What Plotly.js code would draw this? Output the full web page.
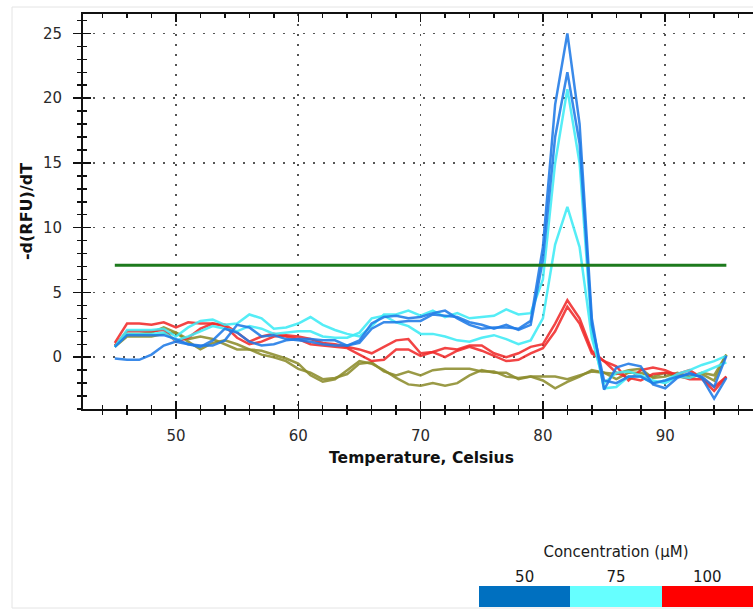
<!DOCTYPE html>
<html>
<head>
<meta charset="utf-8">
<script src="https://cdn.plot.ly/plotly-3.0.1.min.js"></script>
<style>
  html, body { margin: 0; padding: 0; background: #ffffff; overflow: hidden; width: 753px; height: 610px; }
  #chart { width: 770px; height: 610px; }
</style>
</head>
<body>
<div id="chart"></div>
<script>
// Temperature grid (Celsius)
const temperature = [45,46,47,48,49,50,51,52,53,54,55,56,57,58,59,60,
  61,62,63,64,65,66,67,68,69,70,71,72,73,74,75,76,77,78,79,80,
  81,82,83,84,85,86,87,88,89,90,91,92,93,94,95];

// -d(RFU)/dT melt-curve series
const blue50a = [-0.1,-0.2,-0.2,0.2,0.9,1.2,1.0,0.8,1.3,2.2,1.9,1.2,0.9,1.0,1.3,1.4,
  1.4,1.3,1.3,0.9,1.3,2.6,3.1,3.2,3.0,3.1,
  3.4,3.6,3.0,2.5,2.2,2.3,2.3,2.2,2.8,8.5,
  19.5,25.0,18.0,3.0,-2.5,-0.8,-0.5,-0.7,-2.1,-2.4,
  -1.6,-1.2,-1.6,-3.2,-1.6];
const blue50b = [0.8,1.7,1.7,1.7,1.7,1.4,1.0,0.9,0.9,1.3,2.5,2.3,1.6,1.7,1.4,1.3,
  1.2,1.0,0.9,0.9,1.1,2.2,2.7,2.7,2.8,2.8,
  3.3,3.2,3.1,2.7,2.5,2.2,2.5,2.1,2.5,7.5,
  17.0,22.0,16.5,2.5,-1.8,-2.0,-1.5,-1.5,-2.0,-1.8,
  -1.5,-1.3,-1.5,-2.3,0.1];
const cyan75a = [0.8,2.1,2.1,2.1,2.2,1.6,2.3,2.8,2.9,2.5,2.6,3.3,3.0,2.2,2.3,2.6,
  3.1,2.5,2.1,1.8,1.6,2.4,3.3,3.3,3.6,3.2,
  3.6,3.1,3.4,3.0,3.1,3.2,3.7,3.3,3.4,6.0,
  15.0,20.7,15.0,2.0,-2.4,-2.3,-1.5,-1.5,-2.0,-1.8,
  -1.3,-1.0,-0.6,-0.3,0.1];
const cyan75b = [0.8,1.8,1.8,1.8,1.9,1.3,1.6,2.0,2.4,2.2,2.0,2.4,2.2,1.8,1.9,2.0,
  2.0,1.6,1.5,1.5,1.9,3.0,3.2,2.7,2.4,1.8,
  1.8,1.6,1.3,1.2,1.5,1.7,1.4,1.0,1.3,3.0,
  8.7,11.6,8.5,1.5,-2.0,-1.2,-1.1,-1.4,-1.8,-2.0,
  -1.5,-1.6,-1.2,-0.8,-0.4];
const red100a = [1.1,2.6,2.6,2.5,2.7,2.3,2.7,2.6,2.6,2.4,1.5,1.0,1.2,1.6,1.7,1.6,
  1.4,1.1,1.0,0.8,0.6,0.3,0.8,1.3,1.4,0.3,
  0.4,0.7,0.6,0.9,0.9,0.3,0.0,0.3,0.8,1.0,
  2.6,4.4,3.0,0.5,-0.3,-0.7,-1.8,-1.0,-0.8,-1.0,
  -1.4,-1.7,-1.7,-2.6,-1.5];
const red100b = [0.9,2.0,2.0,2.0,2.1,1.2,1.5,2.2,2.6,2.5,1.9,1.2,1.6,1.8,1.6,1.4,
  1.0,0.9,0.8,0.7,0.2,-0.3,-0.2,0.6,0.6,0.1,
  0.4,0.0,0.5,0.8,0.5,0.1,-0.3,-0.2,0.3,0.7,
  2.0,3.9,2.6,0.3,-0.3,-1.2,-1.6,-1.8,-1.3,-1.2,
  -1.3,-1.0,-1.6,-2.3,-1.5];
const oliveA = [0.9,1.8,1.8,1.9,2.3,1.9,1.2,0.6,1.1,1.3,1.0,0.6,0.5,0.2,-0.1,-0.5,
  -1.4,-1.9,-1.7,-1.0,-0.3,-0.5,-1.0,-1.6,-2.1,-2.2,
  -2.0,-2.2,-2.0,-1.4,-1.0,-1.2,-1.2,-1.7,-1.5,-1.8,
  -2.4,-1.9,-1.5,-1.0,-1.2,-1.7,-1.2,-1.2,-1.5,-1.2,
  -1.5,-1.6,-1.3,-1.8,0.2];
const oliveB = [0.8,1.6,1.6,1.6,1.8,1.9,1.4,1.6,1.4,1.0,0.6,0.6,0.2,0.0,-0.3,-0.9,
  -1.2,-1.7,-1.6,-1.3,-0.5,-0.4,-1.1,-1.4,-1.1,-1.4,
  -1.0,-0.9,-0.9,-0.9,-1.1,-1.1,-1.5,-1.6,-1.5,-1.5,
  -1.5,-1.7,-1.4,-1.1,-1.2,-1.3,-1.0,-0.9,-1.6,-1.5,
  -1.2,-1.5,-1.2,-1.4,0.2];

// Threshold line
const thresholdX = [45, 95];
const thresholdY = [7.1, 7.1];

// Concentration legend
const concentrationLabels = ['50', '75', '100'];
const concentrationValues = [50, 75, 100];

const BLUE = '#1f7ae6', CYAN = '#3eeaf5', RED = '#f02a2a', OLIVE = '#8c8c2c';
const FONT = 'DejaVu Sans, Arial, sans-serif';

function line(y, color) {
  return { x: temperature, y: y, type: 'scatter', mode: 'lines',
    line: { color: color, width: 2.5 }, opacity: 0.88,
    hoverinfo: 'skip', showlegend: false, xaxis: 'x', yaxis: 'y' };
}

const traces = [
  line(oliveA, OLIVE), line(oliveB, OLIVE),
  line(red100a, RED), line(red100b, RED),
  line(cyan75b, CYAN), line(cyan75a, CYAN),
  line(blue50b, BLUE), line(blue50a, BLUE),
  { x: thresholdX, y: thresholdY, type: 'scatter', mode: 'lines',
    line: { color: '#1d7a1d', width: 3 }, hoverinfo: 'skip', showlegend: false },
  { x: [null], y: [null], type: 'scatter', mode: 'lines', xaxis: 'x2', yaxis: 'y2',
    hoverinfo: 'skip', showlegend: false },
  { type: 'heatmap', x: concentrationLabels, y: [0], z: [concentrationValues],
    zmin: 50, zmax: 100, showscale: false, hoverinfo: 'skip',
    colorscale: [[0,'#0070c0'],[0.25,'#0070c0'],[0.25,'#66ffff'],[0.75,'#66ffff'],[0.75,'#ff0000'],[1,'#ff0000']],
    xaxis: 'x3', yaxis: 'y3' }
];

const XR = [42.4, 97.75], YR = [-4.0, 26.5];
const XD = [83/770, 760/770], YD = [(610-409)/610, (610-14)/610];
const tickFont = { family: FONT, size: 15, color: '#2a2a2a' };

const layout = {
  width: 770, height: 610,
  margin: { l: 0, r: 0, t: 0, b: 0 },
  paper_bgcolor: '#ffffff', plot_bgcolor: '#ffffff',
  showlegend: false,
  shapes: [
    { type: 'rect', xref: 'paper', yref: 'paper', layer: 'below',
      x0: 12/770, x1: 1.05, y0: 2/610, y1: 1 - 7/610,
      line: { color: '#e4e4e4', width: 1 }, fillcolor: 'rgba(0,0,0,0)' }
  ],
  xaxis: {
    domain: XD, range: XR, anchor: 'y', tick0: 0, dtick: 10,
    ticks: 'outside', ticklen: 8, tickwidth: 1.5, tickcolor: '#111',
    showline: true, linecolor: '#111', linewidth: 2, mirror: true,
    showgrid: true, gridcolor: '#555', gridwidth: 1.6, griddash: '2px,8px',
    zeroline: false, tickfont: tickFont, ticklabelstandoff: 4,
    minor: { dtick: 2, tick0: 0, ticks: 'outside', ticklen: 4, tickwidth: 1.5, tickcolor: '#111', showgrid: false },
    title: { text: '<b>Temperature, Celsius</b>', font: { family: FONT, size: 15.5, color: '#111' }, standoff: 8 }
  },
  yaxis: {
    domain: YD, range: YR, anchor: 'x', tick0: 0, dtick: 5,
    ticks: 'outside', ticklen: 8, tickwidth: 1.5, tickcolor: '#111',
    showline: true, linecolor: '#111', linewidth: 2,
    showgrid: true, gridcolor: '#555', gridwidth: 1.6, griddash: '2px,8px',
    zeroline: false, tickfont: tickFont, ticklabelstandoff: 8,
    minor: { dtick: 1, tick0: 0, ticks: 'outside', ticklen: 4, tickwidth: 1.5, tickcolor: '#111', showgrid: false },
    title: { text: '<b>-d(RFU)/dT</b>', font: { family: FONT, size: 16, color: '#111' }, standoff: 6 }
  },
  xaxis2: {
    overlaying: 'x', anchor: 'y2', range: XR, tick0: 0, dtick: 10,
    ticks: 'inside', ticklen: 8, tickwidth: 1.5, tickcolor: '#111', mirror: 'ticks',
    showticklabels: false, showgrid: false, zeroline: false, showline: false,
    minor: { dtick: 2, tick0: 0, ticks: 'inside', ticklen: 4, tickwidth: 1.5, tickcolor: '#111', showgrid: false }
  },
  yaxis2: {
    overlaying: 'y', anchor: 'x2', range: YR, tick0: 0, dtick: 5,
    ticks: 'inside', ticklen: 8, tickwidth: 1.5, tickcolor: '#111',
    showticklabels: false, showgrid: false, zeroline: false, showline: false,
    minor: { dtick: 1, tick0: 0, ticks: 'inside', ticklen: 4, tickwidth: 1.5, tickcolor: '#111', showgrid: false }
  },
  xaxis3: {
    domain: [479/770, 753/770], anchor: 'y3', side: 'top', type: 'category',
    showgrid: false, zeroline: false, showline: false, ticks: '',
    tickfont: { family: FONT, size: 15, color: '#1a1a1a' },
    title: { text: 'Concentration (µM)', font: { family: FONT, size: 15, color: '#1a1a1a' }, standoff: 6 }
  },
  yaxis3: {
    domain: [1 - 607/610, 1 - 586/610], anchor: 'x3', visible: false
  }
};

Plotly.newPlot('chart', traces, layout, { staticPlot: true, displayModeBar: false });
</script>
</body>
</html>
